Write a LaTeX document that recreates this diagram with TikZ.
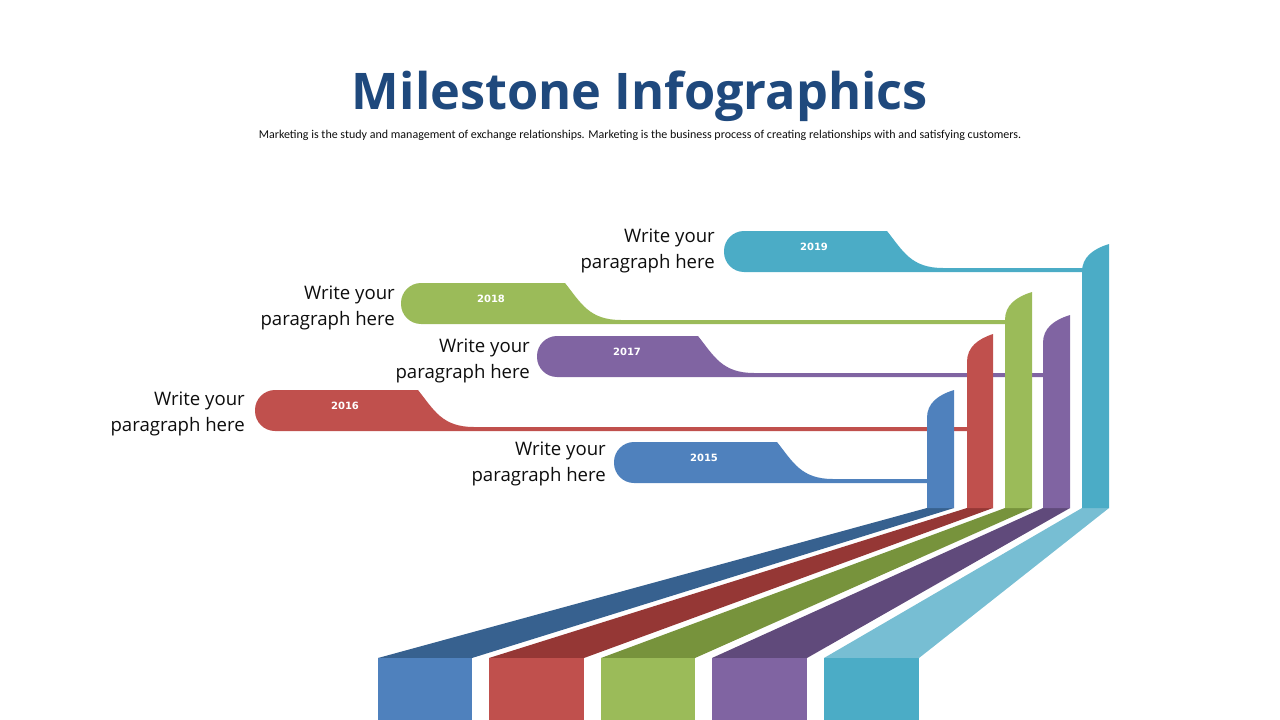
\documentclass[tikz,border=0pt]{standalone}
\usepackage{fontspec}
\setmainfont{Open Sans}
\newfontfamily\subfont{Carlito}
\newfontfamily\yearfont{DejaVu Sans}
\definecolor{cblue}{HTML}{4F81BD}
\definecolor{cbluedk}{HTML}{37618F}
\definecolor{cred}{HTML}{C0504D}
\definecolor{creddk}{HTML}{953735}
\definecolor{cgreen}{HTML}{9BBB59}
\definecolor{cgreendk}{HTML}{77933C}
\definecolor{cpurple}{HTML}{8064A2}
\definecolor{cpurpledk}{HTML}{604A7B}
\definecolor{cteal}{HTML}{4BACC6}
\definecolor{cteallt}{HTML}{77BED3}
\definecolor{ctitle}{HTML}{1F497D}
\definecolor{ctext}{HTML}{0D0D0D}
% tab: color, xl, top, xc, col, year, name
\newcommand\mstab[7]{%
  \fill[#1] ({#2+20},#3) -- (#4,#3)
    .. controls ({#4+16},{#3+20}) and ({#4+24},{#3+37}) .. ({#4+56},{#3+37})
    -- ({#5+4},{#3+37}) -- ({#5+4},{#3+41}) -- ({#2+20},{#3+41})
    .. controls ({#2+9},{#3+41}) and (#2,{#3+32}) .. (#2,{#3+21})
    -- (#2,{#3+20})
    .. controls (#2,{#3+9}) and ({#2+9},#3) .. cycle;
  \node[yearlbl] (#7) at ({#2+90},{#3+16}) {#6};
}
% column: color, xl, xr, top
\newcommand\mscol[4]{%
  \fill[#1] (#2,508) -- (#2,{#4+28})
    .. controls (#2,{#4+13}) and ({#2+11},{#4+5}) .. (#3,#4)
    -- (#3,508) -- cycle;
}
% shadow + block: color, dark color, xl, xr, bl, br
\newcommand\msbase[6]{%
  \fill[#2] (#3,508) -- (#4,508) -- (#6,658) -- (#5,658) -- cycle;
  \fill[#1] (#5,658) rectangle (#6,720);
}
\tikzset{
  yearlbl/.style={text=white,font=\yearfont\bfseries\fontsize{10}{12}\selectfont,inner sep=0pt},
  para/.style={text=ctext,font=\fontsize{18.6}{26}\selectfont,align=right,anchor=east,inner sep=0pt},
}
\begin{document}
\begin{tikzpicture}[x=1pt,y=-1pt]
\useasboundingbox (0,0) rectangle (1280,720);
\node[text=ctitle,font=\bfseries\fontsize{50.5}{58}\selectfont,inner sep=0pt] (title) at (640,96) {Milestone Infographics};
\node[text=ctext,font=\subfont\fontsize{12}{14}\selectfont,inner sep=0pt] (sub) at (640,135) {Marketing is the study and management of exchange relationships. Marketing is the  business process of creating relationships with and satisfying customers.};

% bases
\msbase{cblue}{cbluedk}{927}{954}{378}{472}
\msbase{cred}{creddk}{967}{993}{489}{584}
\msbase{cgreen}{cgreendk}{1005}{1032}{601}{695}
\msbase{cpurple}{cpurpledk}{1043}{1070}{712}{807}
\msbase{cteal}{cteallt}{1082}{1109}{824}{919}

% tabs
\mstab{cteal}{724}{231}{887}{1082}{2019}{y2019}
\mstab{cgreen}{401}{283}{565}{1005}{2018}{y2018}
\mstab{cpurple}{537}{336}{698}{1043}{2017}{y2017}
\mstab{cred}{255}{390}{418}{967}{2016}{y2016}
\mstab{cblue}{614}{442}{777}{927}{2015}{y2015}

% columns
\mscol{cblue}{927}{954}{390}
\mscol{cred}{967}{993}{334}
\mscol{cgreen}{1005}{1032}{292}
\mscol{cpurple}{1043}{1070}{315}
\mscol{cteal}{1082}{1109}{244}

% labels
\node[para] (t2019) at (715,251) {Write your\\paragraph here};
\node[para] (t2018) at (395,308) {Write your\\paragraph here};
\node[para] (t2017) at (530,361) {Write your\\paragraph here};
\node[para] (t2016) at (245,414) {Write your\\paragraph here};
\node[para] (t2015) at (606,464) {Write your\\paragraph here};
\end{tikzpicture}
\end{document}
